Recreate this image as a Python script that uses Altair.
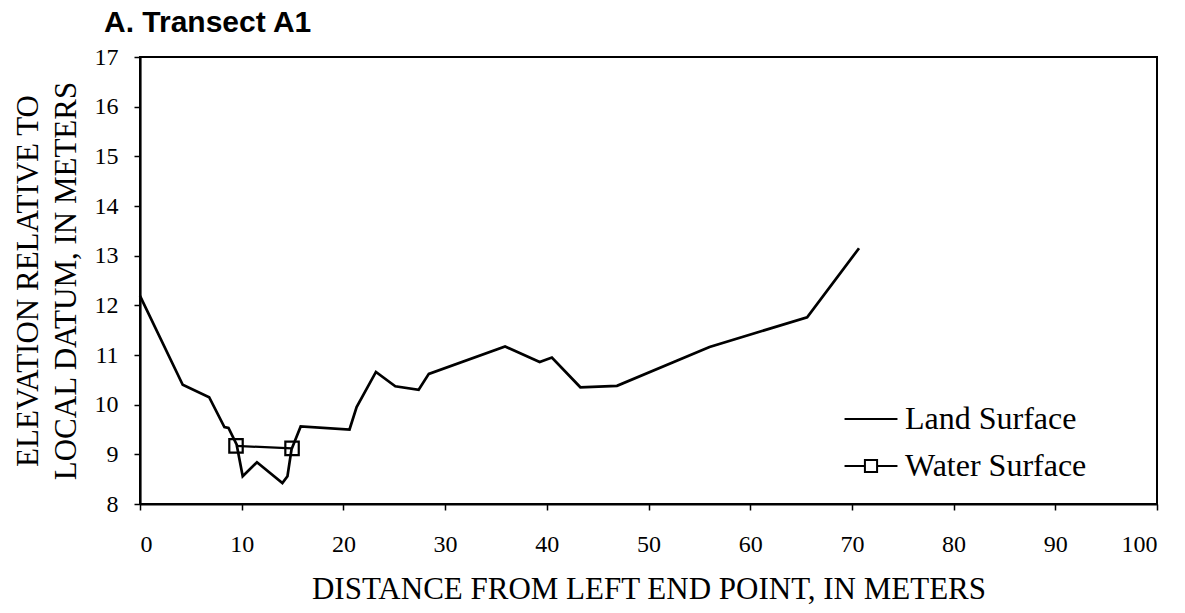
import altair as alt
import pandas as pd

# Land surface profile (distance m, elevation m)
land_x = [0.0, 4.2, 6.8, 8.3, 8.7, 9.5, 10.1, 11.5, 14.0, 14.5, 14.9, 15.8,
          20.6, 21.3, 23.2, 25.1, 27.4, 28.4, 35.9, 39.3, 40.5, 43.3, 46.9,
          56.0, 65.6, 70.7]
land_y = [12.19, 10.40, 10.15, 9.55, 9.53, 9.20, 8.56, 8.84, 8.42, 8.56, 9.10, 9.56,
          9.50, 9.95, 10.66, 10.37, 10.30, 10.62, 11.17, 10.86, 10.95, 10.35, 10.38,
          11.16, 11.76, 13.15]

# Water surface
water_x = [9.44, 14.95]
water_y = [9.17, 9.12]

series_names = ["Land Surface", "Water Surface"]
x_ticks = list(range(0, 101, 10))
y_ticks = list(range(8, 18))

land = pd.DataFrame({"x": land_x, "y": land_y, "series": series_names[0]})
water = pd.DataFrame({"x": water_x, "y": water_y, "series": series_names[1]})
df = pd.concat([land, water], ignore_index=True)

SERIF = "Liberation Serif"

x_enc = alt.X("x:Q", scale=alt.Scale(domain=[0, 100], nice=False),
              axis=alt.Axis(values=x_ticks, title="DISTANCE FROM LEFT END POINT, IN METERS",
                            titleY=94, titleBaseline="alphabetic", titleFontSize=31,
                            labelPadding=22))
y_enc = alt.Y("y:Q", scale=alt.Scale(domain=[8, 17], nice=False, zero=False),
              axis=alt.Axis(values=y_ticks,
                            title=["ELEVATION RELATIVE TO", "LOCAL DATUM, IN METERS"],
                            titleX=-103, titleY=223.5, titleAngle=270,
                            titleAlign="center", titleBaseline="alphabetic",
                            titleLineHeight=38, labelPadding=16))

land_line = alt.Chart(land).mark_line(color="black", strokeWidth=2.7).encode(
    x=x_enc, y=y_enc)

water_line = alt.Chart(water).mark_line(color="black", strokeWidth=2.2).encode(
    x="x:Q", y="y:Q")

water_pts = alt.Chart(water).mark_point(shape="square", size=180, filled=False,
                                        color="black", strokeWidth=2.2, opacity=1).encode(
    x="x:Q", y="y:Q")

legend_layer = alt.Chart(df).mark_point(opacity=0, filled=False).encode(
    x="x:Q", y="y:Q",
    shape=alt.Shape("series:N",
                    scale=alt.Scale(domain=series_names,
                                    range=["M-2,0H2",
                                           "M-2,0H-0.46M0.46,0H2M-0.46,-0.46H0.46V0.46H-0.46Z"]),
                    legend=alt.Legend(title=None, orient="none", legendX=715, legendY=346,
                                      symbolSize=700, symbolStrokeColor="black",
                                      symbolFillColor="transparent", symbolStrokeWidth=2,
                                      symbolOpacity=1,
                                      labelFont=SERIF, labelFontSize=32, labelColor="black",
                                      labelOffset=18, rowPadding=15, padding=0,
                                      labelLimit=400)),
)

chart = alt.layer(land_line, water_line, water_pts, legend_layer).properties(
    width=1017, height=447,
    background="white",
    title=alt.TitleParams("A. Transect A1", anchor="start", frame="group", dx=-36,
                          offset=12, dy=29, baseline="alphabetic",
                          font="Liberation Sans", fontSize=30, fontWeight="bold",
                          color="black"),
    autosize=alt.AutoSizeParams(type="none"),
    padding={"left": 132, "top": 49, "right": 20, "bottom": 101},
).configure_view(stroke="black", strokeWidth=2).configure_axis(
    grid=False, domainColor="black", domainWidth=2.2, tickColor="black", tickWidth=1.5,
    tickSize=6, labelFont=SERIF, labelFontSize=24, labelColor="black",
    titleFont=SERIF, titleFontSize=31, titleFontWeight="normal", titleColor="black",
)

chart.save("out.html", embed_options={"renderer": "svg", "actions": False})
